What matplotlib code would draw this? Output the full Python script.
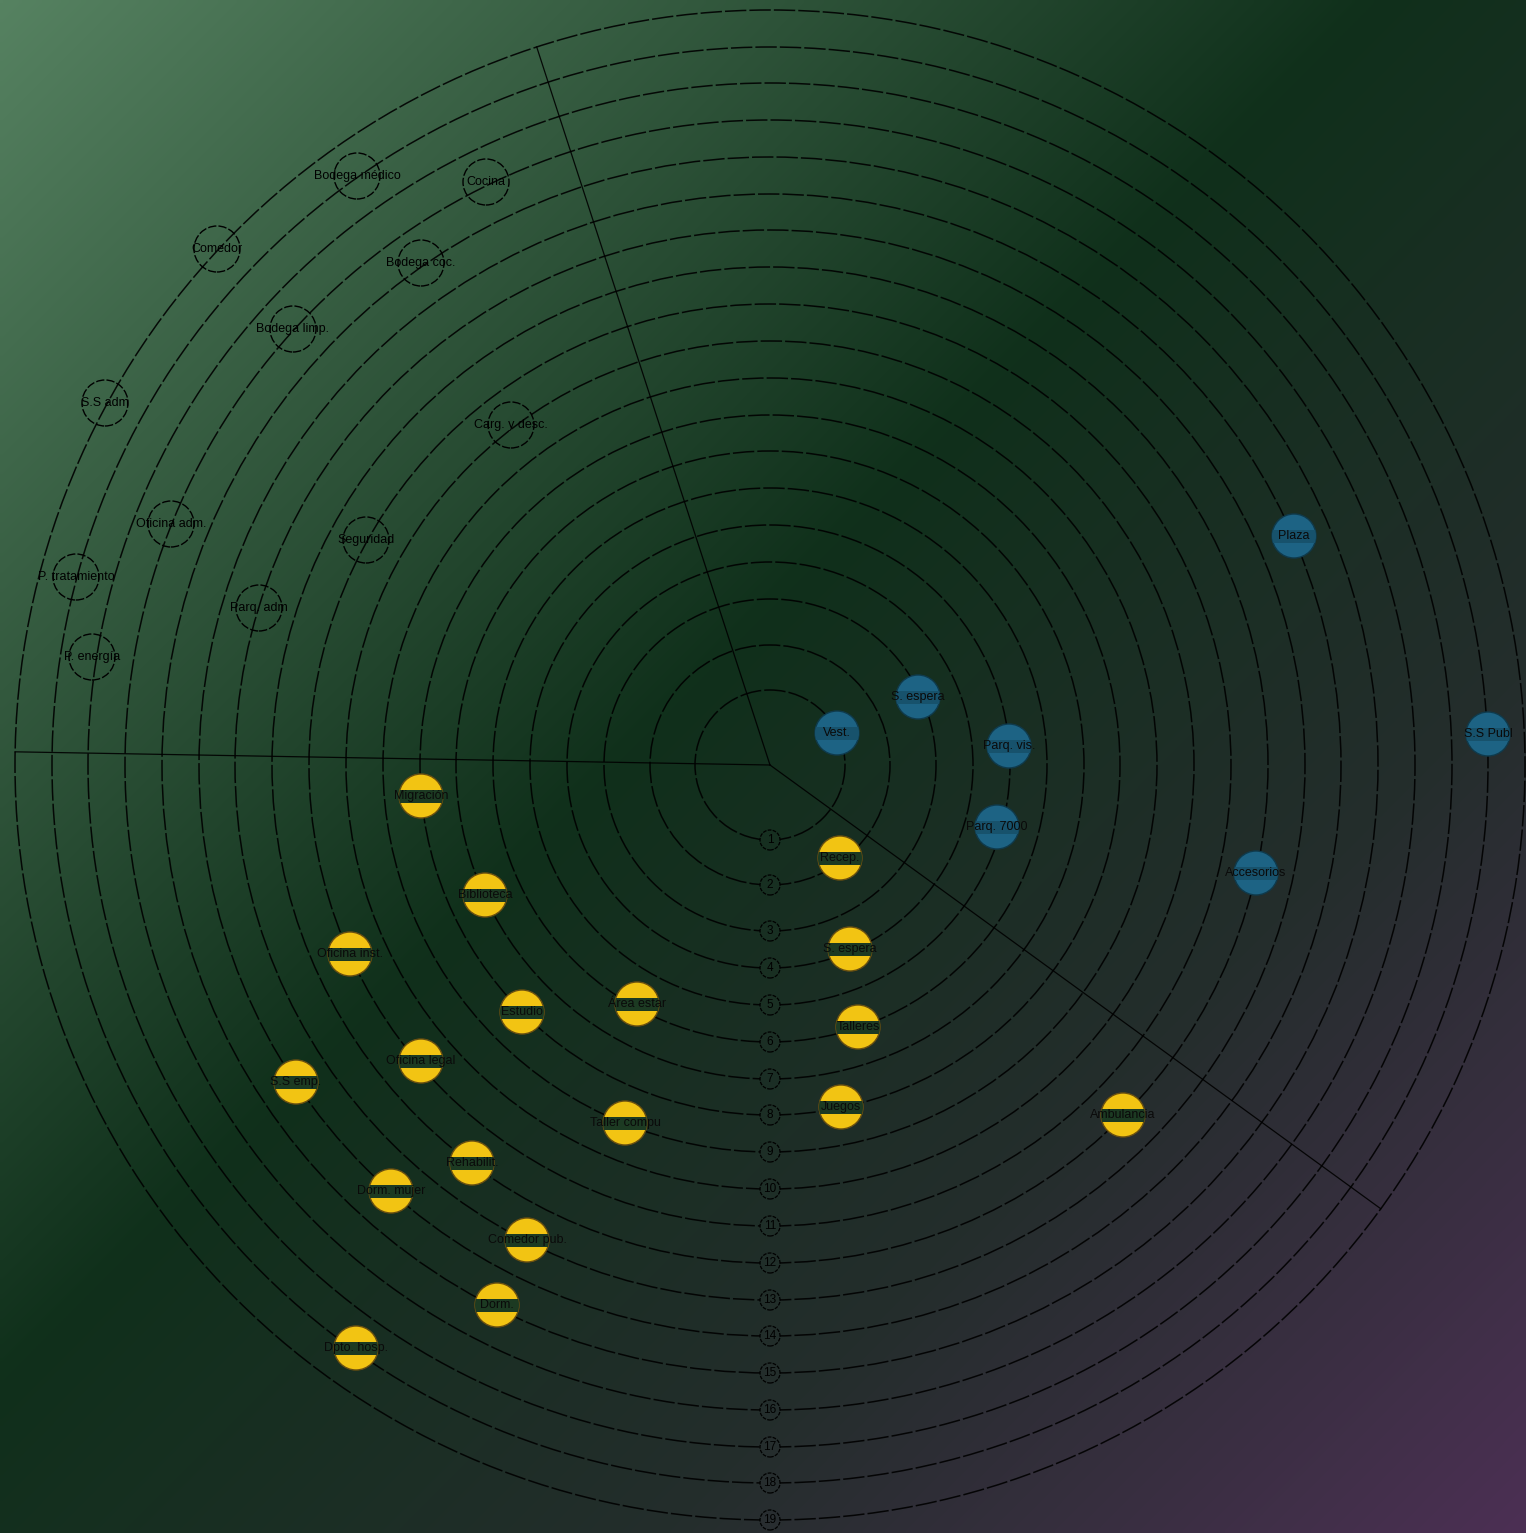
import numpy as np
import matplotlib
matplotlib.use('Agg')
import matplotlib.pyplot as plt
from matplotlib.patches import Circle, Rectangle

# ring radii (drawing units, centre at 0,0)
ring_radii = [75, 120, 166, 203, 240, 277, 314, 350, 387, 424, 461, 498,
              535, 571, 608, 645, 682, 718, 755]
ring_labels = [str(i) for i in range(1, 20)]

# sector dividers (degrees)
divider_angles = [108, 179, -36]

# outline nodes (upper-left sector)
outline_names = ['Bodega médico', 'Cocina', 'Comedor', 'Bodega coc.',
                 'Bodega limp.', 'S.S adm', 'Carg. y desc.', 'Oficina adm.',
                 'Seguridad', 'P. tratamiento', 'Parq. adm', 'P. energía']
outline_x = [-413, -284, -553, -349, -477, -665, -259, -599, -404, -694, -511, -678]
outline_y = [589, 583, 516, 502, 436, 362, 340, 241, 225, 188, 157, 108]

# blue nodes (right sector)
blue_names = ['Vest.', 'S. espera', 'Parq. vis.', 'Parq. 7000', 'Plaza',
              'S.S Publ', 'Accesorios']
blue_x = [67, 148, 239, 227, 524, 718, 486]
blue_y = [32, 68, 19, -62, 229, 31, -108]

# yellow nodes (lower sector)
yellow_names = ['Recep.', 'S. espera', 'Talleres', 'Juegos', 'Ambulancia',
                'Migración', 'Biblioteca', 'Oficina inst.', 'Estudio',
                'Área estar', 'Oficina legal', 'S.S emp.', 'Taller compu',
                'Rehabilit.', 'Dorm. mujer', 'Comedor pub.', 'Dorm.',
                'Dpto. hosp.']
yellow_x = [70, 80, 88, 71, 353, -349, -285, -420, -248, -133, -349, -474,
            -145, -298, -379, -243, -273, -414]
yellow_y = [-93, -184, -262, -342, -350, -31, -130, -189, -247, -239, -296,
            -317, -358, -398, -426, -475, -540, -583]

W, H = 1526, 1533
cx, cy = 770, 765
node_r = 22

# background gradient stops along the diagonal
grad_stops = [0.0, 0.45, 0.72, 1.0]
grad_cols = np.array([[86, 130, 97], [16, 48, 27], [36, 45, 44], [76, 48, 84]]) / 255


def bg_color(px, py):
    t = (px / (W - 1) + py / (H - 1)) / 2
    return np.array([np.interp(t, grad_stops, grad_cols[:, c]) for c in range(3)]).T


def background():
    h, w = 300, 300
    yy, xx = np.mgrid[0:h, 0:w]
    return bg_color(xx * (W - 1) / (w - 1), yy * (H - 1) / (h - 1))


fig = plt.figure(figsize=(W / 100, H / 100), dpi=100)
ax = fig.add_axes([0, 0, 1, 1])
ax.set_xlim(-cx, W - cx)
ax.set_ylim(-(H - cy), cy)
ax.set_aspect('equal')
ax.axis('off')

ax.imshow(background(), extent=(-cx, W - cx, -(H - cy), cy),
          interpolation='bilinear', zorder=0)

dash = (0, (14, 2))

# concentric rings
for r in ring_radii:
    ax.add_patch(Circle((0, 0), r, fill=False, ec='black', lw=1.1,
                        ls=dash, alpha=0.9, zorder=1))

# sector dividers
for a in divider_angles:
    th = np.deg2rad(a)
    ax.plot([0, ring_radii[-1] * np.cos(th)], [0, ring_radii[-1] * np.sin(th)],
            color='black', lw=0.9, alpha=0.9, zorder=1)

# ring number markers
for r, lab in zip(ring_radii, ring_labels):
    fc = bg_color(cx, cy + r)
    ax.add_patch(Circle((0, -r), 10, fc=fc, ec='black', lw=0.9,
                        ls=(0, (3, 1)), zorder=2))
    ax.text(0, -r, lab, ha='center', va='center', fontsize=8.5,
            family='Liberation Sans', zorder=3)

# outline nodes
for name, x, y in zip(outline_names, outline_x, outline_y):
    ax.add_patch(Circle((x, y), node_r + 1, fill=False, ec='black', lw=1.0,
                        ls=(0, (6, 1.5)), zorder=3))
    ax.text(x, y, name, ha='center', va='center', fontsize=9,
            family='Liberation Sans', zorder=4)


def filled_nodes(names, xs, ys, face, edge, band):
    for name, x, y in zip(names, xs, ys):
        c = Circle((x, y), node_r, fc=face, ec=edge, lw=1.0, zorder=3)
        ax.add_patch(c)
        b = Rectangle((x - node_r, y - 6.5), 2 * node_r, 13, fc=band,
                      ec='none', zorder=3.5)
        ax.add_patch(b)
        b.set_clip_path(c)
        ax.text(x, y, name, ha='center', va='center', fontsize=9,
                family='Liberation Sans', color='#0a0a0a', zorder=4)


filled_nodes(blue_names, blue_x, blue_y, '#1d6384', '#0f3a4c', '#17526c')
filled_nodes(yellow_names, yellow_x, yellow_y, '#f2c413', '#6b5010', '#1c3a22')

fig.savefig('out.png', dpi=100)
